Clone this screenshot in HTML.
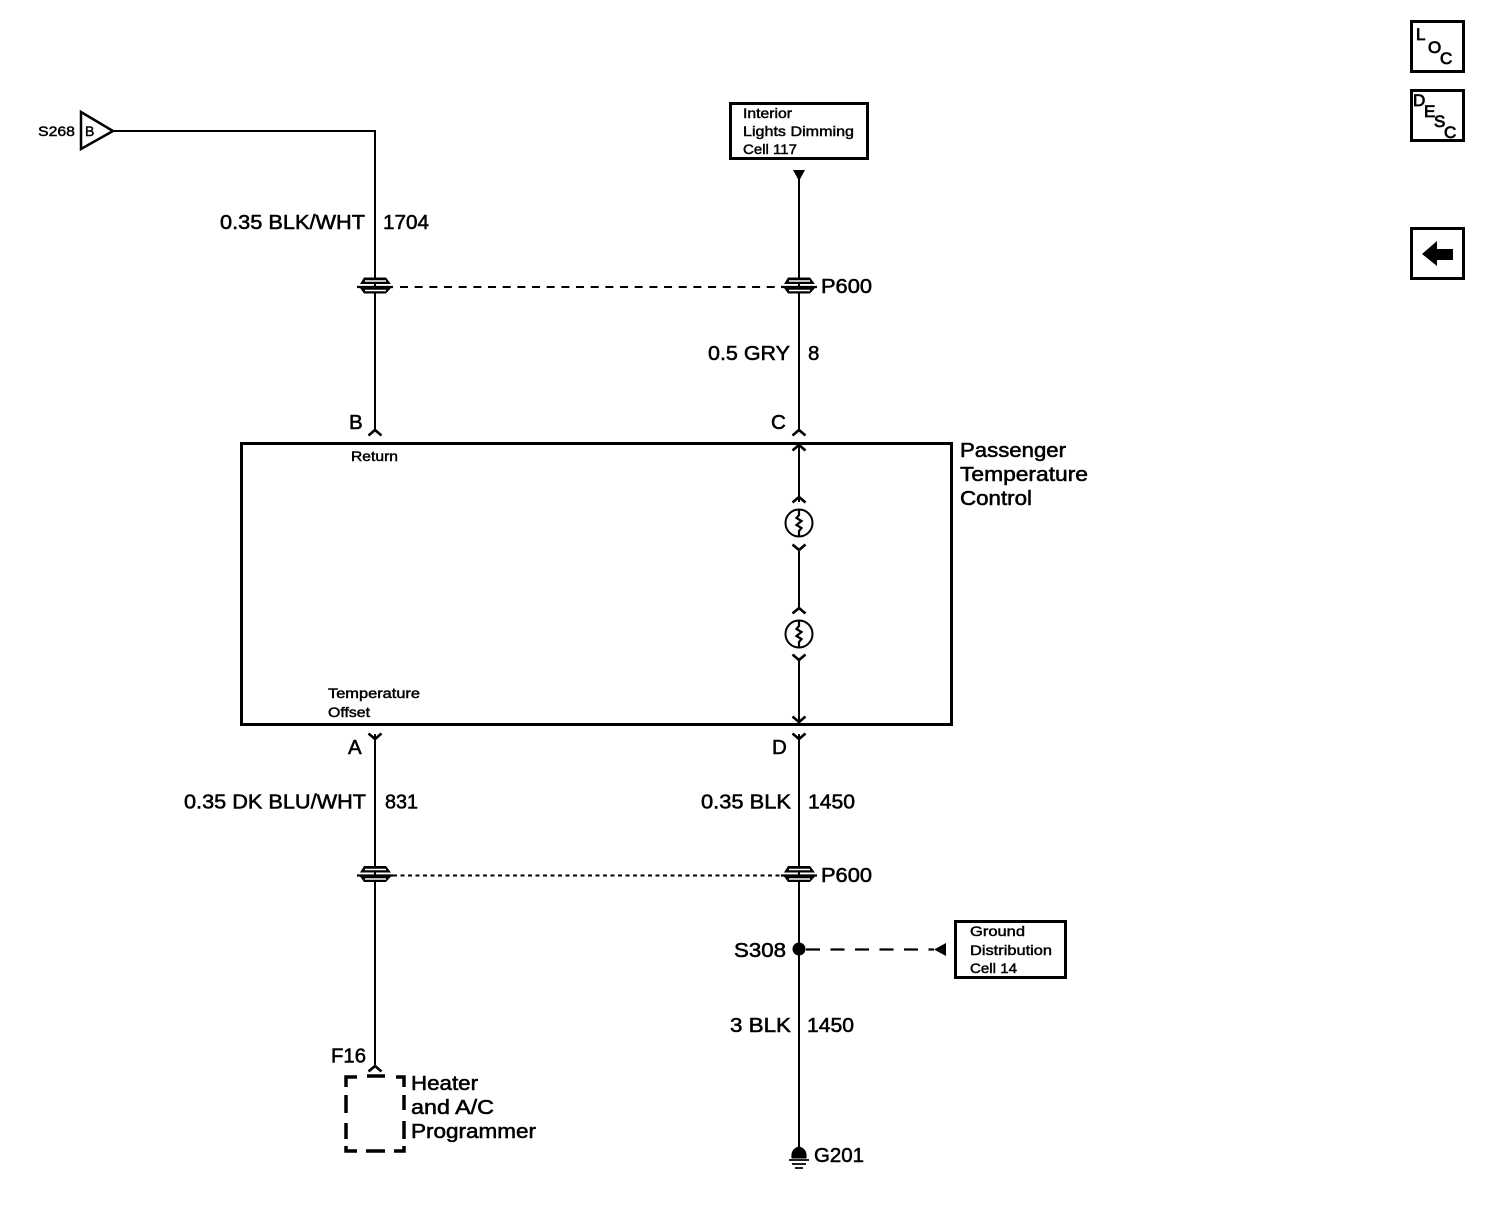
<!DOCTYPE html>
<html>
<head>
<meta charset="utf-8">
<style>
html,body{margin:0;padding:0;background:#fff;}
svg{display:block;}
text{font-family:"Liberation Sans",sans-serif;fill:#000;stroke:#000;stroke-width:.55px;}
.b{font-size:20.5px;}
.s{font-size:14px;stroke-width:.45px;}
.t{font-size:17px;stroke-width:.8px;}
</style>
</head>
<body>
<svg width="1504" height="1222" viewBox="0 0 1504 1222" xmlns="http://www.w3.org/2000/svg">
<defs>
<g id="conn">
<path d="M-15,-2.500 L-11,-9 H11 L16,-2.500 Z" fill="#000"/>
<path d="M-10,-5.500 H11" stroke="#fff" stroke-width="1.400"/>
<path d="M-18,0.500 H18" stroke="#000" stroke-width="2.200"/>
<path d="M-15,1.500 H16 L11,7 H-11 Z" fill="#000"/>
<path d="M-10,4 H11" stroke="#fff" stroke-width="1.400"/>
</g>
<path id="up" d="M-6.500,5.500 L0,0 L6.500,5.500" fill="none" stroke="#000" stroke-width="2.600"/>
<path id="dn" d="M-6.500,-5.500 L0,0 L6.500,-5.500" fill="none" stroke="#000" stroke-width="2.600"/>
<g id="res">
<circle r="13.500" fill="#fff" stroke="#000" stroke-width="2"/>
<path d="M0,-13 V-8 L-2.500,-5 L2.500,-2 L-2.500,2 L2.500,5 L0,8 V13" fill="none" stroke="#000" stroke-width="2.200"/>
</g>
</defs>

<g fill="none" stroke="#000" stroke-width="2">
<path d="M114,131 H375 V432"/>
<path d="M799,172 V432"/>
<path d="M799,444 V502"/>
<path d="M799,548 V610"/>
<path d="M799,658 V724"/>
<path d="M799,734 V1150"/>
<path d="M375,734 V1066"/>
</g>

<!-- S268 triangle -->
<path d="M81,112 L113,131 L81,149 Z" fill="#fff" stroke="#000" stroke-width="2.500"/>
<text class="s" x="38" y="136" textLength="37" lengthAdjust="spacingAndGlyphs">S268</text>
<text class="s" x="85" y="136">B</text>

<!-- Interior box -->
<rect x="730.500" y="103.500" width="137" height="55" fill="#fff" stroke="#000" stroke-width="3"/>
<text class="s" x="743" y="118" textLength="49" lengthAdjust="spacingAndGlyphs">Interior</text>
<text class="s" x="743" y="136" textLength="111" lengthAdjust="spacingAndGlyphs">Lights Dimming</text>
<text class="s" x="743" y="154" textLength="54" lengthAdjust="spacingAndGlyphs">Cell 117</text>
<path d="M793,170 H805 L799,181 Z" fill="#000"/>

<!-- dashed P600 lines -->
<path d="M400,287 H781" stroke="#000" stroke-width="2" stroke-dasharray="8,6.670" fill="none"/>
<path d="M393,875.500 H781" stroke="#000" stroke-width="2" stroke-dasharray="4,3.500" fill="none"/>
<use href="#conn" x="375" y="286.500"/>
<use href="#conn" x="799" y="286.500"/>
<use href="#conn" x="375" y="875"/>
<use href="#conn" x="799" y="875"/>

<text class="b" x="220" y="229" textLength="145" lengthAdjust="spacingAndGlyphs">0.35 BLK/WHT</text>
<text class="b" x="383" y="229" textLength="46" lengthAdjust="spacingAndGlyphs">1704</text>
<text class="b" x="821" y="293" textLength="51" lengthAdjust="spacingAndGlyphs">P600</text>
<text class="b" x="708" y="360" textLength="82" lengthAdjust="spacingAndGlyphs">0.5 GRY</text>
<text class="b" x="808" y="360">8</text>
<text class="b" x="349" y="429">B</text>
<text class="b" x="771" y="429">C</text>
<use href="#up" x="375" y="430"/>
<use href="#up" x="799" y="430"/>

<!-- Main box -->
<rect x="241.500" y="443.500" width="710" height="281" fill="none" stroke="#000" stroke-width="3"/>
<text class="b" x="960" y="457" textLength="106" lengthAdjust="spacingAndGlyphs">Passenger</text>
<text class="b" x="960" y="481" textLength="128" lengthAdjust="spacingAndGlyphs">Temperature</text>
<text class="b" x="960" y="505" textLength="72" lengthAdjust="spacingAndGlyphs">Control</text>
<text class="s" x="351" y="461" textLength="47" lengthAdjust="spacingAndGlyphs">Return</text>
<text class="s" x="328" y="698" textLength="92" lengthAdjust="spacingAndGlyphs">Temperature</text>
<text class="s" x="328" y="717" textLength="42" lengthAdjust="spacingAndGlyphs">Offset</text>

<!-- inner symbols -->
<use href="#up" x="799" y="445"/>
<use href="#up" x="799" y="497"/>
<use href="#res" x="799" y="523"/>
<use href="#dn" x="799" y="550"/>
<use href="#up" x="799" y="608"/>
<use href="#res" x="799" y="634"/>
<use href="#dn" x="799" y="660"/>
<use href="#dn" x="799" y="722"/>

<use href="#dn" x="375" y="739"/>
<use href="#dn" x="799" y="739"/>
<text class="b" x="348" y="754">A</text>
<text class="b" x="772" y="754">D</text>

<text class="b" x="184" y="808.500" textLength="182" lengthAdjust="spacingAndGlyphs">0.35 DK BLU/WHT</text>
<text class="b" x="385" y="808.500" textLength="33" lengthAdjust="spacingAndGlyphs">831</text>
<text class="b" x="701" y="808.500" textLength="90" lengthAdjust="spacingAndGlyphs">0.35 BLK</text>
<text class="b" x="808" y="808.500" textLength="47" lengthAdjust="spacingAndGlyphs">1450</text>
<text class="b" x="821" y="882" textLength="51" lengthAdjust="spacingAndGlyphs">P600</text>

<!-- S308 -->
<circle cx="799" cy="949" r="6.500" fill="#000"/>
<text class="b" x="734" y="957" textLength="52" lengthAdjust="spacingAndGlyphs">S308</text>
<path d="M806,949.500 H934" stroke="#000" stroke-width="2.200" stroke-dasharray="14,10.500" fill="none"/>
<path d="M946,943 V956 L934,949.500 Z" fill="#000"/>
<rect x="955.500" y="921.500" width="110" height="56" fill="#fff" stroke="#000" stroke-width="3"/>
<text class="s" x="970" y="936" textLength="55" lengthAdjust="spacingAndGlyphs">Ground</text>
<text class="s" x="970" y="955" textLength="82" lengthAdjust="spacingAndGlyphs">Distribution</text>
<text class="s" x="970" y="973" textLength="47" lengthAdjust="spacingAndGlyphs">Cell 14</text>

<text class="b" x="730" y="1032" textLength="61" lengthAdjust="spacingAndGlyphs">3 BLK</text>
<text class="b" x="807" y="1032" textLength="47" lengthAdjust="spacingAndGlyphs">1450</text>

<!-- F16 -->
<text class="b" x="331" y="1062.500" textLength="35" lengthAdjust="spacingAndGlyphs">F16</text>
<use href="#up" x="375" y="1066"/>
<g stroke="#000" stroke-width="3.500" fill="none">
<path d="M357,1077 H346 V1087"/>
<path d="M367,1076 H385"/>
<path d="M396,1077 H404 V1087"/>
<path d="M346,1095 V1113"/>
<path d="M404,1095 V1110"/>
<path d="M346,1123 V1139"/>
<path d="M404,1121 V1139"/>
<path d="M346,1146 V1151 H357"/>
<path d="M366,1151 H385"/>
<path d="M394,1151 H404 V1146"/>
</g>
<text class="b" x="411" y="1090" textLength="67" lengthAdjust="spacingAndGlyphs">Heater</text>
<text class="b" x="411" y="1114" textLength="83" lengthAdjust="spacingAndGlyphs">and A/C</text>
<text class="b" x="411" y="1138" textLength="125" lengthAdjust="spacingAndGlyphs">Programmer</text>

<!-- ground -->
<path d="M792,1158 Q791,1149 799,1147 Q807,1149 806,1158 Z" fill="#000" stroke="#000"/>
<path d="M789,1160 H809 M792,1164 H806 M795,1168 H803" stroke="#000" stroke-width="1.800" fill="none"/>
<text class="b" x="814" y="1162" textLength="50" lengthAdjust="spacingAndGlyphs">G201</text>

<!-- side buttons -->
<rect x="1411.500" y="21.500" width="52" height="50" fill="#fff" stroke="#000" stroke-width="3"/>
<text class="t" x="1416" y="40">L</text>
<text class="t" x="1428" y="53">O</text>
<text class="t" x="1440" y="64">C</text>
<rect x="1411.500" y="90.500" width="52" height="50" fill="#fff" stroke="#000" stroke-width="3"/>
<text class="t" x="1413" y="106">D</text>
<text class="t" x="1424" y="117">E</text>
<text class="t" x="1434" y="127">S</text>
<text class="t" x="1444" y="138">C</text>
<rect x="1411.500" y="228.500" width="52" height="50" fill="#fff" stroke="#000" stroke-width="3"/>
<path d="M1422,254 L1437,241 V249 H1453 V260 H1437 V266 Z" fill="#000"/>
</svg>
</body>
</html>
